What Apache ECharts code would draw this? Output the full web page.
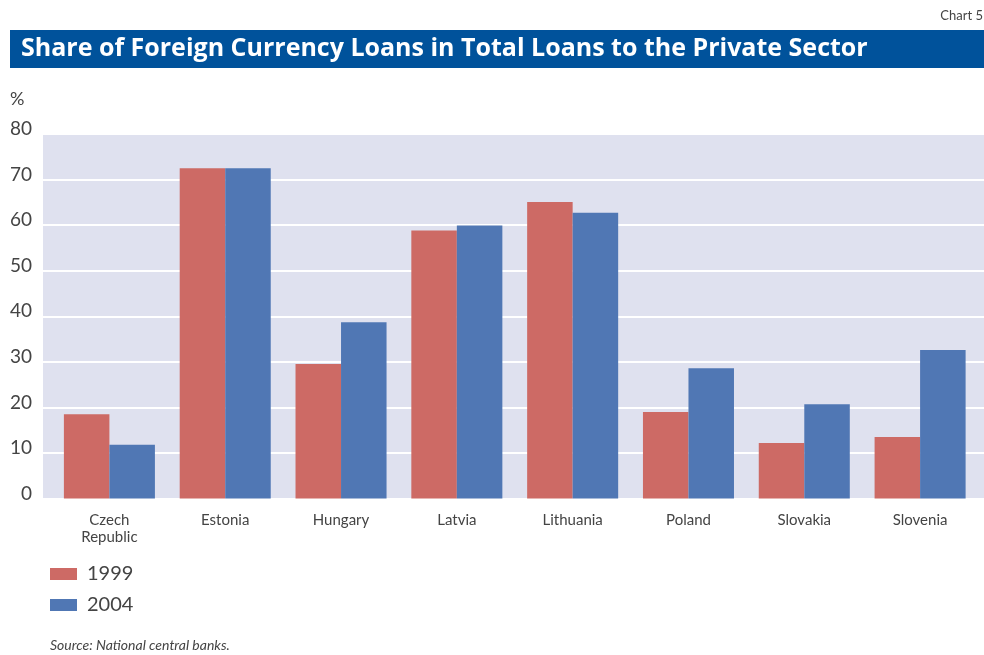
<!DOCTYPE html>
<html>
<head>
<meta charset="utf-8">
<script src="https://cdn.jsdelivr.net/npm/echarts@6/dist/echarts.min.js"></script>
<style>
  html, body { margin: 0; padding: 0; background: #ffffff; }
  #chart { width: 984px; height: 655px; }
</style>
</head>
<body>
<div id="chart"></div>
<script>
// Share of foreign currency loans, % of total loans to the private sector
const countries = ['Czech\nRepublic', 'Estonia', 'Hungary', 'Latvia', 'Lithuania', 'Poland', 'Slovakia', 'Slovenia'];
const seriesNames = ['1999', '2004'];
const values1999 = [18.5, 72.5, 29.5, 58.8, 65.1, 19.0, 12.2, 13.5];
const values2004 = [11.8, 72.5, 38.7, 59.9, 62.7, 28.6, 20.7, 32.6];
const yTicks = { min: 0, max: 80, interval: 10 };

const FONT = 'Lato, "Open Sans", sans-serif';
const TITLE_FONT = '"Open Sans", Lato, sans-serif';
const TEXT = '#444444';
const RED = '#CD6A65';
const BLUE = '#5077B4';

const chart = echarts.init(document.getElementById('chart'), null, { renderer: 'canvas' });

chart.setOption({
  animation: false,
  backgroundColor: '#ffffff',
  textStyle: { fontFamily: FONT },
  graphic: [
    { type: 'text', right: 1, top: 9,
      style: { text: 'Chart 5', font: '13px ' + FONT, fill: TEXT } },
    { type: 'rect', shape: { x: 10, y: 30, width: 974, height: 38 },
      style: { fill: '#00529B' } },
    { type: 'text', left: 21, top: 36,
      style: { text: 'Share of Foreign Currency Loans in Total Loans to the Private Sector',
               font: 'bold 25px ' + TITLE_FONT, fill: '#ffffff' } },
    { type: 'text', left: 10, top: 90,
      style: { text: '%', font: '18px ' + FONT, fill: TEXT } },
    { type: 'text', left: 50, top: 638,
      style: { text: 'Source: National central banks.', font: 'italic 14px ' + FONT, fill: TEXT } }
  ],
  grid: [
    // shaded plot panel with the value scale
    { left: 43, right: 0, top: 134, bottom: 156.5, show: true,
      backgroundColor: '#DFE1EF', borderWidth: 0 },
    // bar region
    { left: 51.5, right: 6, top: 134, bottom: 156.5 }
  ],
  legend: {
    orient: 'vertical', left: 45, top: 559,
    data: seriesNames,
    icon: 'rect', itemWidth: 27, itemHeight: 12, itemGap: 11,
    textStyle: { fontSize: 20, color: TEXT, fontFamily: FONT, lineHeight: 20, padding: [0, 0, 0, 5] }
  },
  xAxis: [
    { type: 'category', gridIndex: 0, show: false, data: countries },
    { type: 'category', gridIndex: 1, data: countries,
      axisLine: { show: false }, axisTick: { show: false },
      axisLabel: { color: TEXT, fontSize: 15, fontFamily: FONT, lineHeight: 17, margin: 13 } }
  ],
  yAxis: [
    { type: 'value', gridIndex: 0, min: yTicks.min, max: yTicks.max, interval: yTicks.interval,
      axisLine: { show: false }, axisTick: { show: false },
      axisLabel: { color: TEXT, fontSize: 19, fontFamily: FONT, margin: 11,
                   verticalAlign: 'bottom', lineHeight: 10 },
      splitLine: { show: true, lineStyle: { color: '#ffffff', width: 2 } } },
    { type: 'value', gridIndex: 1, min: yTicks.min, max: yTicks.max, interval: yTicks.interval,
      show: false, splitLine: { show: false } }
  ],
  series: [
    { name: seriesNames[0], type: 'bar', xAxisIndex: 1, yAxisIndex: 1, data: values1999,
      itemStyle: { color: RED }, barGap: '0%', barCategoryGap: '21.4%' },
    { name: seriesNames[1], type: 'bar', xAxisIndex: 1, yAxisIndex: 1, data: values2004,
      itemStyle: { color: BLUE }, barGap: '0%', barCategoryGap: '21.4%' }
  ]
});
</script>
</body>
</html>
